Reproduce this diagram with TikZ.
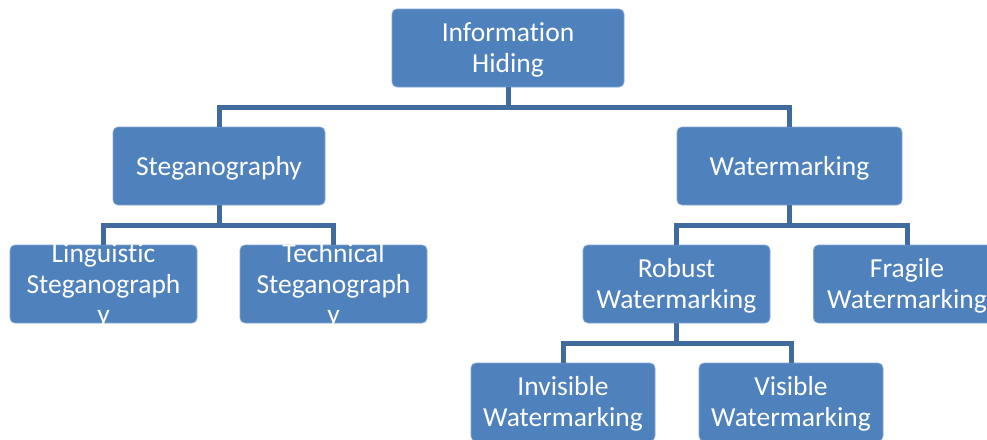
\documentclass[tikz,border=0pt]{standalone}
\usepackage{fontspec}
\setmainfont{Carlito}[Ligatures=NoCommon]
\definecolor{boxblue}{RGB}{79,129,189}
\definecolor{lineblue}{RGB}{65,106,158}
\begin{document}
\begin{tikzpicture}[x=1pt,y=-1pt,
    box/.style={fill=boxblue,draw=boxblue!70!white,line width=0.8pt,rounded corners=5pt,inner sep=0pt},
    txt/.style={text=white,align=center,font=\fontsize{27.5}{30.5}\selectfont,inner sep=0pt},
    link/.style={lineblue,line width=5pt}]
      \useasboundingbox (0,0) rectangle (987,439);
      \clip (0,0) rectangle (987,439);
      \node[box,minimum width=232,minimum height=78] (info) at (508,48) {};
      \node[box,minimum width=212,minimum height=78] (steg) at (219,166) {};
      \node[box,minimum width=225,minimum height=78] (water) at (789.5,166) {};
      \node[box,minimum width=187,minimum height=78] (ling) at (103.5,284) {};
      \node[box,minimum width=187,minimum height=78] (tech) at (333.5,284) {};
      \node[box,minimum width=187,minimum height=78] (robust) at (676.5,284) {};
      \node[box,minimum width=187,minimum height=78] (fragile) at (907,284) {};
      \node[box,minimum width=184,minimum height=78] (invis) at (563,402) {};
      \node[box,minimum width=184,minimum height=78] (visible) at (791,402) {};
      \begin{scope}[link]
        \draw (info.south) -- ++(0,20) -| (steg.north);
        \draw (info.south) -- ++(0,20) -| (water.north);
        \draw (steg.south) -- ++(0,20) -| (ling.north);
        \draw (steg.south) -- ++(0,20) -| (tech.north);
        \draw (water.south) -- ++(0,20) -| (robust.north);
        \draw (water.south) -- ++(0,20) -| (fragile.north);
        \draw (robust.south) -- ++(0,20) -| (invis.north);
        \draw (robust.south) -- ++(0,20) -| (visible.north);
      \end{scope}
      \node[txt] at ([yshift=-2]info) {Information\\Hiding};
      \node[txt] at ([yshift=-2]steg) {Steganography};
      \node[txt] at ([yshift=-2]water) {Watermarking};
      \node[txt] at ([yshift=-2]ling) {Linguistic\\Steganograph\\y};
      \node[txt] at ([yshift=-2]tech) {Technical\\Steganograph\\y};
      \node[txt] at ([yshift=-2]robust) {Robust\\Watermarking};
      \node[txt] at ([yshift=-2]fragile) {Fragile\\Watermarking};
      \node[txt] at ([yshift=-2]invis) {Invisible\\Watermarking};
      \node[txt] at ([yshift=-2]visible) {Visible\\Watermarking};
    \end{tikzpicture}
\end{document}
